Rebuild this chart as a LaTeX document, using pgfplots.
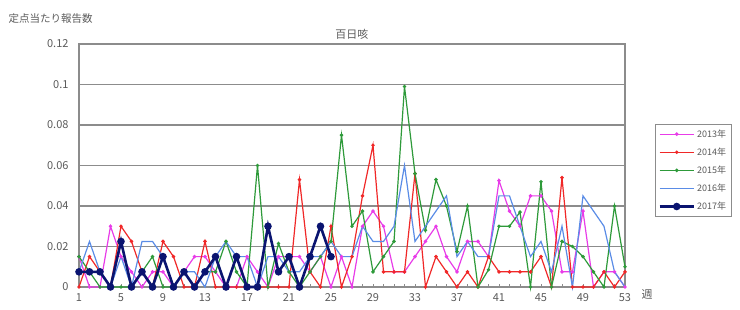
\documentclass[border=0pt]{standalone}
\usepackage{fontspec}
\setmainfont{Noto Sans CJK JP}
\usepackage{pgfplots}
\pgfplotsset{compat=1.18}
\usepackage{pgfplotstable}
\definecolor{cMag}{HTML}{E83CE8}
\definecolor{cRed}{HTML}{F02828}
\definecolor{cGreen}{HTML}{2E9A3A}
\definecolor{cBlue}{HTML}{5A8CE6}
\definecolor{cNavy}{HTML}{0A1470}
\definecolor{cGrid}{HTML}{8C8C8C}
\definecolor{cText}{HTML}{5A5A5A}

\pgfplotstableread{
w v
1 0.015
2 0
3 0
4 0.03
5 0.015
6 0.0075
7 0
8 0.0075
9 0.0075
10 0
11 0.0075
12 0.015
13 0.015
14 0.0075
15 0
16 0
17 0.015
18 0.0075
19 0
20 0.015
21 0.015
22 0.015
23 0.0075
24 0.015
25 0
26 0.015
27 0
28 0.03
29 0.0375
30 0.03
31 0.0075
32 0.0075
33 0.015
34 0.0225
35 0.03
36 0.015
37 0.0075
38 0.0225
39 0.0225
40 0.015
41 0.0525
42 0.0375
43 0.03
44 0.045
45 0.045
46 0.0375
47 0.0075
48 0.0075
49 0.0375
50 0
51 0.0075
52 0.0075
53 0
}\dataA

\pgfplotstableread{
w v
1 0
2 0.015
3 0.0075
4 0
5 0.03
6 0.0225
7 0.0075
8 0
9 0.0225
10 0.015
11 0
12 0
13 0.0225
14 0
15 0
16 0
17 0
18 0
19 0
20 0
21 0
22 0.053
23 0.0075
24 0
25 0.03
26 0
27 0.015
28 0.045
29 0.07
30 0.0075
31 0.0075
32 0.0075
33 0.056
34 0
35 0.015
36 0.0075
37 0
38 0.0075
39 0
40 0.015
41 0.0075
42 0.0075
43 0.0075
44 0.0075
45 0.015
46 0
47 0.054
48 0
49 0
50 0
51 0.0075
52 0
53 0.0075
}\dataB

\pgfplotstableread{
w v
1 0.015
2 0.0075
3 0
4 0
5 0
6 0
7 0.0075
8 0.015
9 0
10 0
11 0.0075
12 0
13 0.0075
14 0.0075
15 0.0225
16 0.0075
17 0
18 0.06
19 0
20 0.0215
21 0.0075
22 0
23 0.0075
24 0.015
25 0.0225
26 0.075
27 0.03
28 0.0375
29 0.0075
30 0.015
31 0.0225
32 0.099
33 0.056
34 0.028
35 0.053
36 0.04
37 0.0175
38 0.04
39 0
40 0.0085
41 0.03
42 0.03
43 0.037
44 0
45 0.052
46 0
47 0.0225
48 0.02
49 0.015
50 0.0075
51 0
52 0.04
53 0.01
}\dataC

\pgfplotstableread{
w v
1 0.0075
2 0.0225
3 0.0075
4 0
5 0.015
6 0
7 0.0225
8 0.0225
9 0.015
10 0
11 0.0075
12 0.0075
13 0
14 0.015
15 0.0225
16 0.015
17 0.015
18 0
19 0.015
20 0.015
21 0.0075
22 0.0075
23 0.015
24 0.015
25 0.0225
26 0.015
27 0.015
28 0.03
29 0.0225
30 0.0225
31 0.03
32 0.06
33 0.0225
34 0.03
35 0.0375
36 0.045
37 0.015
38 0.0225
39 0.015
40 0.015
41 0.045
42 0.045
43 0.03
44 0.015
45 0.0225
46 0.0075
47 0.03
48 0
49 0.045
50 0.0375
51 0.03
52 0.0075
53 0
}\dataD

\pgfplotstableread{
w v
1 0.0075
2 0.0075
3 0.0075
4 0
5 0.0225
6 0
7 0.0075
8 0
9 0.015
10 0
11 0.0075
12 0
13 0.0075
14 0.015
15 0
16 0.015
17 0
18 0
19 0.03
20 0.0075
21 0.015
22 0
23 0.015
24 0.03
25 0.015
}\dataE

\begin{document}
\begin{tikzpicture}[x=1pt,y=1pt]
\path[use as bounding box] (0,0) rectangle (740,309);
\begin{axis}[
  at={(79pt,22pt)}, anchor=south west,
  scale only axis, width=546pt, height=243pt,
  xmin=1, xmax=53, ymin=0, ymax=0.12,
  xtick={1,5,...,53},
  minor x tick num=3,
  ytick={0,0.02,0.04,0.06,0.08,0.1,0.12},
  ymajorgrids,
  major grid style={cGrid, line width=1.6pt},
  axis line style={cGrid, line width=1.4pt},
  tick pos=left,
  ytick style={draw=none},
  xtick style={cGrid, line width=0.6pt},
  minor x tick style={cGrid, line width=0.6pt},
  tick align=inside,
  major tick length=3pt, minor tick length=3pt,
  /pgf/number format/fixed, /pgf/number format/precision=2,
  /pgf/number format/assume math mode=true,
  tick label style={font=\fontsize{11}{12}\selectfont, text=cText},
  yticklabel style={xshift=-7pt},
  xticklabel style={yshift=-3pt},
  title={百日咳},
  title style={font=\fontsize{11}{12}\selectfont, text=cText, yshift=-5pt},
  legend style={at={(1.055,0.67)}, anchor=north west,
    draw=cGrid, line width=0.8pt, font=\fontsize{9}{10}\selectfont, text=cText,
    row sep=5pt, inner sep=3pt},
  legend image code/.code={\draw[#1] (0pt,0pt) -- (34pt,0pt);
     \draw[#1, only marks] plot coordinates {(17pt,0pt)};},
  legend cell align=left,
  every axis plot/.append style={line width=1.2pt, mark size=1.1pt},
  clip=false,
]
\addplot[cMag, mark=*] table[x=w,y=v] {\dataA};
\addlegendentry{2013年}
\addplot[cRed, mark=*] table[x=w,y=v] {\dataB};
\addlegendentry{2014年}
\addplot[cGreen, mark=*] table[x=w,y=v] {\dataC};
\addlegendentry{2015年}
\addplot[cBlue, mark=none] table[x=w,y=v] {\dataD};
\addlegendentry{2016年}
\addplot[cNavy, line width=2.6pt, mark=*, mark size=2.4pt] table[x=w,y=v] {\dataE};
\addlegendentry{2017年}
\end{axis}
\node[anchor=west, text=cText, font=\fontsize{10.5}{11}\selectfont] at (5,290) {定点当たり報告数};
\node[anchor=west, text=cText, font=\fontsize{11}{12}\selectfont] at (638,15) {週};
\end{tikzpicture}
\end{document}
